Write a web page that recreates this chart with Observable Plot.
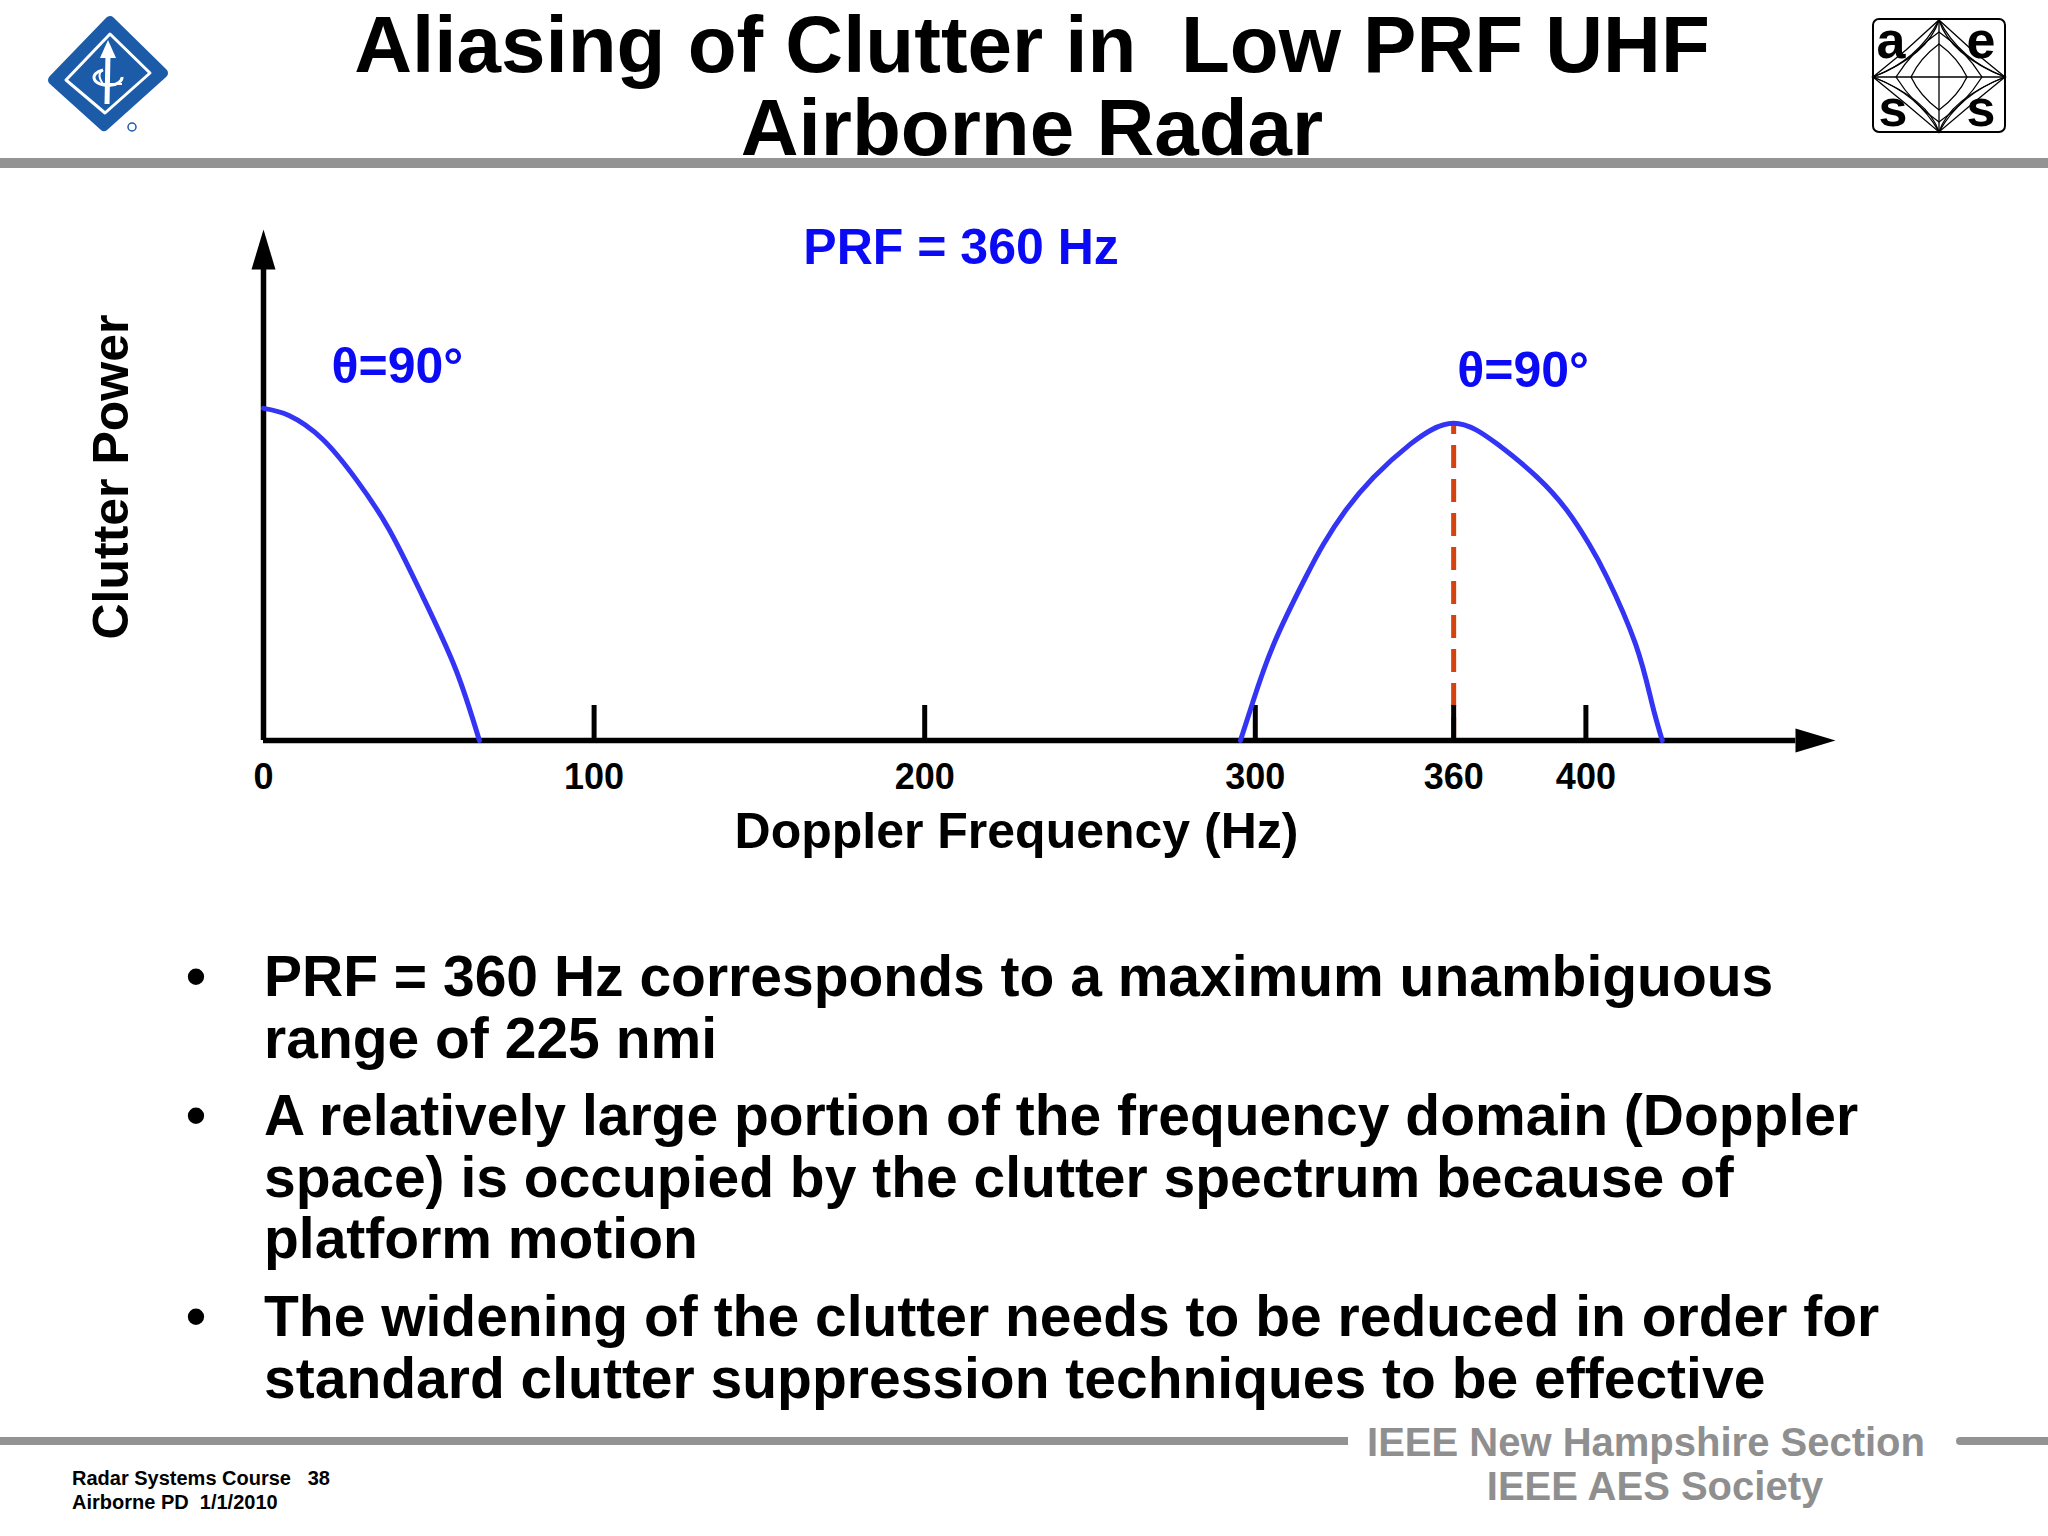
<!DOCTYPE html>
<html><head><meta charset="utf-8">
<script src="https://cdn.jsdelivr.net/npm/d3@7"></script>
<script src="https://cdn.jsdelivr.net/npm/@observablehq/plot@0.6"></script>
<style>
html,body{margin:0;padding:0;background:#fff;}
#page{position:relative;width:2048px;height:1536px;overflow:hidden;font-family:"Liberation Sans",Arial,Helvetica,sans-serif;font-weight:bold;color:#000;}
.abs{position:absolute;}
.title{left:332px;width:1400px;text-align:center;font-size:80px;line-height:84px;white-space:pre;}
#chart{left:0;top:180px;}
.bul{position:absolute;left:0;width:2048px;font-size:57px;line-height:61.5px;white-space:nowrap;}
.bul .txt{position:absolute;left:264px;}
.bul .dot{position:absolute;left:186px;}
.ftr{font-size:40px;line-height:44px;color:#8f8f8f;text-align:center;width:600px;}
.small{font-size:20px;line-height:24px;white-space:pre;}
</style></head>
<body><div id="page">
  <div class="abs title" style="top:3px">Aliasing of Clutter in  Low PRF UHF</div>
  <div class="abs title" style="top:86px">Airborne Radar</div>
  <div class="abs" style="left:0;top:158px;width:2048px;height:10px;background:#939393"></div>

  <svg class="abs" style="left:0;top:0" width="220" height="150">
    <polygon points="110,21 163,73 104,126 53,80" fill="#1b5ba8" stroke="#1b5ba8" stroke-width="10" stroke-linejoin="round"/>
    <polygon points="110,34 150,73 105,113 66,80" fill="none" stroke="#fff" stroke-width="3" stroke-linejoin="round"/>
    <line x1="108" y1="55" x2="107" y2="104" stroke="#fff" stroke-width="5"/>
    <polygon points="108,40 100,58 116,58" fill="#fff"/>
    <path d="M103,70 A14,8 0 1,0 122,77" fill="none" stroke="#fff" stroke-width="3"/>
    <path d="M103,70 Q96,74 103,84 L122,84" fill="none" stroke="#fff" stroke-width="2"/>
    <circle cx="132" cy="127" r="4" fill="none" stroke="#1b5ba8" stroke-width="1.5"/>
  </svg>

  <svg class="abs" style="left:1860px;top:10px" width="160" height="140">
    <rect x="13" y="9" width="132" height="113" rx="6" fill="#fff" stroke="#000" stroke-width="2"/>
    <g fill="none" stroke="#000" stroke-width="1.3">
      <line x1="79" y1="10" x2="79" y2="122"/>
      <line x1="13" y1="67" x2="145" y2="67"/>
      <path d="M79,10 Q100,50 145,67 Q100,84 79,122 Q58,84 13,67 Q58,50 79,10Z"/>
      <path d="M79,10 Q90,45 145,67 Q90,89 79,122 Q68,89 13,67 Q68,45 79,10Z"/>
      <path d="M79,10 L112,40 L145,67 L112,94 L79,122 L46,94 L13,67 L46,40Z"/>
      <path d="M79,22 Q105,40 122,67 Q105,94 79,112 Q53,94 36,67 Q53,40 79,22Z"/>
      <path d="M79,34 Q98,48 107,67 Q98,86 79,100 Q60,86 51,67 Q60,48 79,34Z"/>
    </g>
    <g font-family="Liberation Sans,Arial,sans-serif" font-weight="bold" font-size="52" text-anchor="middle">
      <text x="31" y="48">a</text>
      <text x="121" y="48">e</text>
      <text x="33" y="116">s</text>
      <text x="121" y="116">s</text>
    </g>
  </svg>

  <div id="chart" class="abs"></div>

  <div class="bul" style="top:946px"><span class="dot">•</span><span class="txt">PRF = 360 Hz corresponds to a maximum unambiguous<br>range of 225 nmi</span></div>
  <div class="bul" style="top:1085px"><span class="dot">•</span><span class="txt">A relatively large portion of the frequency domain (Doppler<br>space) is occupied by the clutter spectrum because of<br>platform motion</span></div>
  <div class="bul" style="top:1286px"><span class="dot">•</span><span class="txt">The widening of the clutter needs to be reduced in order for<br>standard clutter suppression techniques to be effective</span></div>

  <div class="abs" style="left:0;top:1437px;width:1348px;height:8px;background:#939393"></div>
  <div class="abs" style="left:1956px;top:1437px;width:92px;height:8px;background:#939393;border-radius:4px 0 0 4px"></div>
  <div class="abs ftr" style="left:1346px;top:1420px">IEEE New Hampshire Section</div>
  <div class="abs ftr" style="left:1355px;top:1464px">IEEE AES Society</div>
  <div class="abs small" style="left:72px;top:1466px">Radar Systems Course   38</div>
  <div class="abs small" style="left:72px;top:1490px">Airborne PD  1/1/2010</div>
</div>
<script>
// ---- data ----
const tickValues = [0, 100, 200, 300, 360, 400];
const tickMarks = [100, 200, 300, 360, 400];
const leftFreq = [0, 7.7, 17.8, 27.9, 37.9, 48.0, 58.1, 65.3];
const leftPower = [0.650, 0.636, 0.590, 0.512, 0.414, 0.284, 0.140, 0];
const rightFreq = [295.5, 299.1, 305.6, 315.2, 320.7, 327.3, 335.8, 346.9, 360.0, 373.2, 385.3, 394.3, 400.9, 406.4, 415.0, 420.0, 423.1];
const rightPower = [0, 0.072, 0.189, 0.319, 0.385, 0.450, 0.515, 0.580, 0.621, 0.580, 0.515, 0.450, 0.385, 0.319, 0.189, 0.072, 0];
const prf = 360;
const xDomain = [0, 475.5];
const yDomain = [0, 1];

const leftData = leftFreq.map((f, i) => ({f, p: leftPower[i]}));
const rightData = rightFreq.map((f, i) => ({f, p: rightPower[i]}));
const peak = rightData.find(d => d.f === prf).p;

const arrowUp = {draw(ctx) { ctx.moveTo(0, 0); ctx.lineTo(12, 40); ctx.lineTo(-12, 40); ctx.closePath(); }};
const arrowRight = {draw(ctx) { ctx.moveTo(0, 0); ctx.lineTo(-40, -12); ctx.lineTo(-40, 12); ctx.closePath(); }};

const blue = "#3434f5";
const textBlue = "#0a0af5";

const chart = Plot.plot({
  width: 2048, height: 720,
  marginLeft: 263, marginRight: 213, marginTop: 49, marginBottom: 160,
  x: {domain: xDomain},
  y: {domain: yDomain, axis: null},
  style: {background: "transparent", fontFamily: "'Liberation Sans', Arial, sans-serif", fontWeight: "bold", color: "#000", overflow: "visible"},
  marks: [
    Plot.ruleX([prf], {y1: 0, y2: peak, stroke: "#d4420f", strokeWidth: 5, strokeDasharray: "23,11"}),
    Plot.ruleX(tickMarks, {y1: 0, y2: 0, insetTop: -35, stroke: "#000", strokeWidth: 5}),
    Plot.axisX({ticks: tickValues, tickSize: 0, tickPadding: 23, fontSize: 36, fontWeight: "bold", label: null, tickFormat: d => String(d)}),
    Plot.ruleX([0], {y1: 0, y2: yDomain[1] - 0.075, stroke: "#000", strokeWidth: 5.5}),
    Plot.ruleY([0], {x1: 0, x2: xDomain[1] - 12, stroke: "#000", strokeWidth: 5.5}),
    Plot.dot([0], {x: () => xDomain[0], y: () => yDomain[1], symbol: arrowUp, fill: "#000", stroke: "none"}),
    Plot.dot([0], {x: () => xDomain[1], y: () => yDomain[0], symbol: arrowRight, fill: "#000", stroke: "none"}),
    Plot.line(leftData, {x: "f", y: "p", stroke: blue, strokeWidth: 5, curve: "natural"}),
    Plot.line(rightData, {x: "f", y: "p", stroke: blue, strokeWidth: 5, curve: "natural"}),
    Plot.text(["PRF = 360 Hz"], {x: 211, y: 0.963, fill: textBlue, fontSize: 50, fontWeight: "bold"}),
    Plot.text(["θ=90°"], {x: 40.5, y: 0.73, fill: textBlue, fontSize: 50, fontWeight: "bold"}),
    Plot.text(["θ=90°"], {x: 381, y: 0.724, fill: textBlue, fontSize: 50, fontWeight: "bold"}),
    Plot.text(["Clutter Power"], {frameAnchor: "left", rotate: -90, dx: -152, dy: -8, textAnchor: "middle", lineAnchor: "middle", fontSize: 50, fontWeight: "bold", fill: "#000"}),
    Plot.text(["Doppler Frequency (Hz)"], {frameAnchor: "bottom", dx: -33, dy: 91, textAnchor: "middle", lineAnchor: "middle", fontSize: 50, fontWeight: "bold", fill: "#000"})
  ]
});
document.getElementById("chart").appendChild(chart);
</script>
</body></html>
